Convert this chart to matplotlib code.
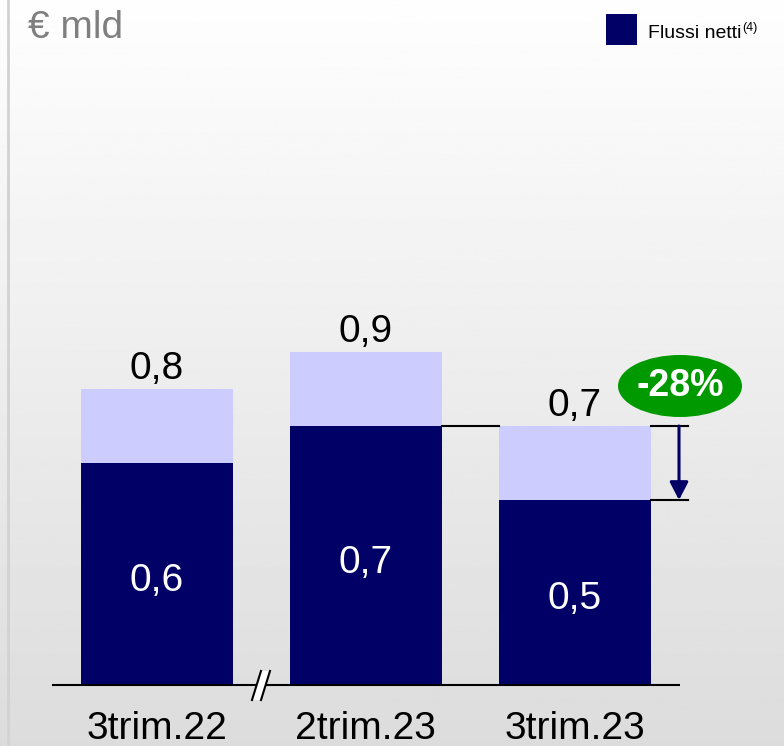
import numpy as np
import matplotlib
matplotlib.use("Agg")
import matplotlib.pyplot as plt
from matplotlib.patches import Ellipse, Polygon, Rectangle

plt.rcParams['font.family'] = ['Liberation Sans', 'DejaVu Sans']

categories = ["3trim.22", "2trim.23", "3trim.23"]
totals = [0.8, 0.9, 0.7]
netti = [0.6, 0.7, 0.5]
total_labels = ["0,8", "0,9", "0,7"]
netti_labels = ["0,6", "0,7", "0,5"]
change_label = "-28%"
unit_label = "€ mld"
legend_label = "Flussi netti"
legend_note = "(4)"

NAVY = "#000066"
LIGHT = "#ccccff"

W, H = 784, 746
fig = plt.figure(figsize=(W / 100, H / 100), dpi=100)

# background gradient
bg = fig.add_axes([0, 0, 1, 1], zorder=0)
grad = np.linspace(254, 220, 300).reshape(-1, 1)
bg.imshow(grad, cmap="gray", vmin=0, vmax=255, aspect="auto", extent=[0, 1, 0, 1])
bg.axvline(7.5 / W, color="#d2d2d2", lw=2)
bg.set_xlim(0, 1); bg.set_ylim(0, 1)
bg.axis("off")

ax = fig.add_axes([0, 0, 1, 1], zorder=1)
ax.patch.set_alpha(0)
xu = 208.75   # px per category
x0 = 157.0    # px of first category centre
yu = 370.0    # px per unit
ybase = 685.0 # px from top of zero line
ax.set_xlim(-x0 / xu, (W - x0) / xu)
ax.set_ylim(-(H - ybase) / yu, ybase / yu)
ax.axis("off")

def px(x):
    return (x - x0) / xu

def py(y):
    return (ybase - y) / yu

x = np.arange(len(categories))
bw = 152 / xu
ax.bar(x, totals, width=bw, color=LIGHT, zorder=2)
ax.bar(x, netti, width=bw, color=NAVY, zorder=3)

for xi, t, tl, n, nl in zip(x, totals, total_labels, netti, netti_labels):
    ax.text(xi, t + 10 / yu, tl, ha="center", va="baseline", fontsize=28, color="#000000", zorder=5)
    ax.text(xi, n / 2 - 7 / yu, nl, ha="center", va="center", fontsize=28, color="white", zorder=5)
    ax.text(xi, -54 / yu, categories[xi], ha="center", va="baseline", fontsize=28, color="#000000", zorder=5)

# baseline
ax.plot([px(52), px(680)], [0, 0], color="black", lw=1.5, zorder=4, solid_capstyle="butt")
# break mark
brk = Polygon([[px(252), py(700)], [px(261), py(671)], [px(270), py(671)], [px(261), py(700)]],
              closed=True, facecolor="white", edgecolor="none", zorder=6)
ax.add_patch(brk)
ax.plot([px(252), px(261)], [py(700), py(671)], color="black", lw=1.5, zorder=7)
ax.plot([px(261), px(270)], [py(700), py(671)], color="black", lw=1.5, zorder=7)

# connector from bar 2 to bar 3
ax.plot([x[1] + bw / 2, x[2] - bw / 2], [netti[1], netti[1]], color="black", lw=1.5, zorder=4)
# bracket
bx = px(679)
ax.plot([x[2] + bw / 2, px(688)], [totals[2], totals[2]], color="black", lw=1.5, zorder=4)
ax.plot([x[2] + bw / 2, px(688)], [netti[2], netti[2]], color="black", lw=1.5, zorder=4)
ax.annotate("", xy=(bx, netti[2]), xytext=(bx, totals[2]),
            arrowprops=dict(arrowstyle="-|>,head_length=1.08,head_width=0.56", color=NAVY, lw=2.2,
                            mutation_scale=10, shrinkA=0, shrinkB=0), zorder=5)

# green ellipse
ell = Ellipse((px(680), py(386)), 124 / xu, 62 / yu, facecolor="#009900", edgecolor="none", zorder=6)
ax.add_patch(ell)
ax.text(px(680), py(386), change_label, ha="center", va="center", fontsize=27, fontweight="bold",
        color="white", zorder=7)

# unit label
fig.text(28 / W, 1 - 38 / H, unit_label, fontsize=28, color="#7f7f7f", ha="left", va="baseline")

# legend
fig.patches.append(Rectangle((606 / W, 1 - 45 / H), 31 / W, 31 / H, transform=fig.transFigure,
                             facecolor=NAVY, edgecolor="none", figure=fig))
fig.text(648 / W, 1 - 38 / H, legend_label, fontsize=14, color="#000000", ha="left", va="baseline")
fig.text(742 / W, 1 - 31 / H, legend_note, fontsize=9, color="#000000", ha="left", va="baseline")

fig.savefig("out.png", dpi=100)
